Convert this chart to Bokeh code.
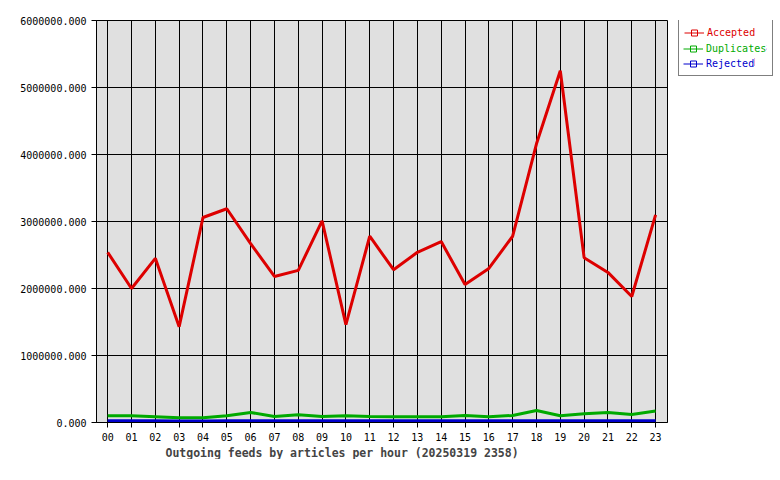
from bokeh.plotting import figure
from bokeh.layouts import row
from bokeh.models import (ColumnDataSource, Legend, LegendItem, PrintfTickFormatter,
                          FixedTicker, Range1d, Title)
from bokeh.embed import file_html
from bokeh.resources import INLINE

hours = list(range(24))
hour_labels = ["%02d" % h for h in hours]
accepted = [2540000, 2000000, 2450000, 1430000, 3060000, 3190000, 2670000, 2180000,
            2270000, 3010000, 1460000, 2780000, 2280000, 2540000, 2700000, 2060000,
            2300000, 2780000, 4160000, 5250000, 2460000, 2240000, 1880000, 3100000]
duplicates = [100000, 100000, 85000, 70000, 72000, 100000, 150000, 90000,
              115000, 90000, 100000, 90000, 85000, 85000, 85000, 105000,
              85000, 105000, 180000, 100000, 130000, 150000, 120000, 170000]
rejected = [25000, 25000, 25000, 24000, 24000, 25000, 26000, 25000,
            25000, 25000, 25000, 25000, 25000, 25000, 25000, 25000,
            25000, 25000, 27000, 26000, 25000, 25000, 25000, 26000]

series = [("Accepted", accepted, "#dd0000"),
          ("Duplicates", duplicates, "#00aa00"),
          ("Rejected", rejected, "#0000cc")]
yticks = [0, 1000000, 2000000, 3000000, 4000000, 5000000, 6000000]

MONO = "DejaVu Sans Mono"
NAN = float("nan")

p = figure(width=670, height=472, output_backend="svg", toolbar_location=None,
           x_range=Range1d(-0.47, 23.5), y_range=Range1d(0, 6000000),
           min_border_left=96, min_border_top=20, min_border_right=3, min_border_bottom=10,
           frame_width=571, frame_height=402)
p.border_fill_color = "#ffffff"
p.background_fill_color = "#e0e0e0"
p.outline_line_color = "black"
p.outline_line_width = 1

p.xaxis.ticker = FixedTicker(ticks=hours)
p.xaxis.major_label_overrides = {h: l for h, l in zip(hours, hour_labels)}
p.yaxis.ticker = FixedTicker(ticks=yticks)
p.yaxis.formatter = PrintfTickFormatter(format="%.3f")
for ax in (p.xaxis, p.yaxis):
    ax.axis_line_color = "black"
    ax.major_tick_line_color = "black"
    ax.major_tick_in = 0
    ax.major_tick_out = 5
    ax.minor_tick_line_color = None
    ax.major_label_text_font = MONO
    ax.major_label_text_font_size = "10px"
    ax.major_label_text_color = "black"
p.xaxis.major_label_standoff = 5
p.yaxis.major_label_standoff = 5

p.xgrid.grid_line_color = "black"
p.ygrid.grid_line_color = "black"
p.xgrid.grid_line_alpha = 1
p.ygrid.grid_line_alpha = 1

for name, vals, col in series:
    src = ColumnDataSource(dict(x=hours, y=vals))
    p.line("x", "y", source=src, line_color=col, line_width=3)

t = Title(text="Outgoing feeds by articles per hour (20250319 2358)", align="left",
          offset=69, text_font=MONO, text_font_size="11.5px", text_font_style="bold",
          standoff=0)
p.add_layout(t, "below")

# legend panel to the right of the chart
lp_fig = figure(width=104, height=472, output_backend="svg", toolbar_location=None,
                x_range=Range1d(0, 1), y_range=Range1d(0, 1),
                x_axis_location=None, y_axis_location=None,
                min_border_left=7, min_border_right=0, min_border_top=12, min_border_bottom=50,
                frame_width=97, frame_height=410)
lp_fig.outline_line_color = None
lp_fig.xgrid.visible = False
lp_fig.ygrid.visible = False
lp_fig.background_fill_color = "white"
lp_fig.border_fill_color = "white"

proxies = []
for name, vals, col in series:
    psrc = ColumnDataSource(dict(x=[NAN], y=[NAN]))
    ln = lp_fig.line("x", "y", source=psrc, line_color=col, line_width=1)
    mk = lp_fig.scatter("x", "y", source=psrc, marker="square", size=4, line_color=col,
                        fill_color=None, line_width=1)
    proxies.append((name, col, [ln, mk]))


def make_legend(entries, loc, color, padding, border):
    lg = Legend(items=[LegendItem(label=n, renderers=rs) for n, c, rs in entries],
                location=loc)
    lg.label_text_font = MONO
    lg.label_text_font_size = "10px"
    lg.label_text_color = color
    lg.glyph_width = 20
    lg.glyph_height = 15
    lg.label_height = 15
    lg.label_width = 10
    lg.spacing = 0
    lg.padding = padding
    lg.margin = 0
    lg.label_standoff = 3
    lg.border_line_color = "black" if border else None
    lg.border_line_width = 1
    lg.background_fill_color = "white"
    lg.background_fill_alpha = 1
    lp_fig.add_layout(lg, "center")
    return lg


make_legend(proxies, (1, 354), series[0][2], 5, True)
make_legend([proxies[1]], (6, 374), series[1][2], 0, False)
make_legend([proxies[2]], (6, 359), series[2][2], 0, False)

layout = row(p, lp_fig)
open("out.html", "w").write(file_html(layout, INLINE))
